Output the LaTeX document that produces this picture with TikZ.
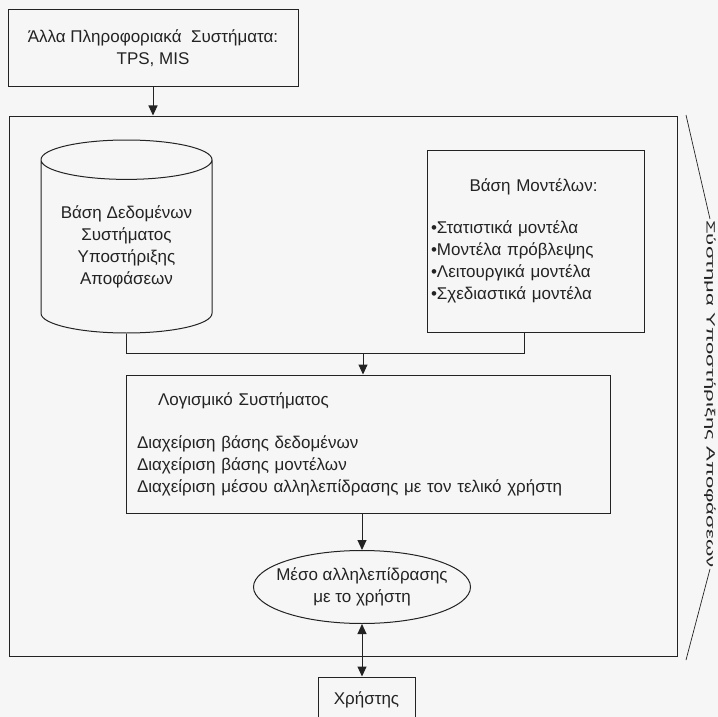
\documentclass[tikz,border=0pt]{standalone}
\usepackage{fontspec}
\setmainfont{Liberation Sans}
\usetikzlibrary{shapes.geometric,arrows.meta,positioning,calc}
\definecolor{inkgray}{RGB}{35,35,35}
\definecolor{paper}{RGB}{246,246,246}
\begin{document}
\begin{tikzpicture}[x=1pt,y=-1pt,
  box/.style={draw=inkgray,line width=1pt,inner sep=0pt},
  txt/.style={font=\fontsize{17}{22}\selectfont,text=inkgray},
  arr/.style={draw=inkgray,line width=1pt,-{Triangle[width=9pt,length=10pt]}},
  link/.style={draw=inkgray,line width=1pt}]
  \fill[paper] (0,0) rectangle (718,717);
  \useasboundingbox (0,0) rectangle (718,717);
  % outer frame
  \node[box,minimum width=668pt,minimum height=540pt] (dss) at (343,386) {};
  % top box
  \node[box,txt,align=center,minimum width=290pt,minimum height=77pt] (other) at (153,48)
    {Άλλα Πληροφοριακά\ \ Συστήματα:\\TPS, MIS};
  % database
  \node[box,txt,cylinder,shape border rotate=90,aspect=0.3,align=center,
        minimum width=171pt,minimum height=193pt,anchor=shape center] (db) at (126.5,236.5)
    {Βάση Δεδομένων\\Συστήματος\\Υποστήριξης\\Αποφάσεων};
  % model base
  \node[box,txt,align=left,text width=209pt,inner xsep=4pt,
        minimum height=182pt] (models) at (535.5,241)
    {\makebox[205pt]{Βάση Μοντέλων:}\\[20pt]
     •Στατιστικά μοντέλα\\•Μοντέλα πρόβλεψης\\•Λειτουργικά μοντέλα\\•Σχεδιαστικά μοντέλα};
  % software
  \node[box,txt,align=left,text width=462pt,inner xsep=11pt,
        minimum height=138pt] (soft) at (368,444)
    {\hspace*{21pt}Λογισμικό Συστήματος\\[21pt]
     Διαχείριση βάσης δεδομένων\\Διαχείριση βάσης μοντέλων\\
     Διαχείριση μέσου αλληλεπίδρασης με τον τελικό χρήστη};
  % interface
  \node[box,txt,ellipse,align=center,minimum width=217pt,minimum height=73pt,
        inner xsep=-30pt,inner ysep=-10pt] (ui) at (362,587)
    {Μέσο αλληλεπίδρασης\\με το χρήστη};
  % user
  \node[box,txt,minimum width=97pt,minimum height=46pt] (user) at (366.5,700) {Χρήστης};
  % connectors
  \coordinate (join) at (363,353);
  \draw[arr] (other.south) -- (other.south |- dss.north);
  \draw[link] (db.bottom) |- (join);
  \draw[link] ([xshift=-11pt]models.south) |- (join);
  \draw[arr] (join) -- (join |- soft.north);
  \draw[arr] (ui.north |- soft.south) -- (ui.north);
  \draw[arr,{Triangle[width=9pt,length=10pt]}-{Triangle[width=9pt,length=10pt]}] (ui.south) -- (ui.south |- user.north);
  % side label
  \node[txt,font=\fontsize{12}{14}\selectfont,rotate=-90,inner sep=1pt] (sdslabel) at (710,394)
    {\scalebox{1.85}[1]{Σύστημα Υποστήριξης Αποφάσεων}};
  \coordinate (bracetop) at (686,115);
  \coordinate (bracebot) at (686,660);
  \draw[link,line width=0.7pt] (bracetop) -- (sdslabel.west);
  \draw[link,line width=0.7pt] (sdslabel.east) -- (bracebot);
\end{tikzpicture}
\end{document}
